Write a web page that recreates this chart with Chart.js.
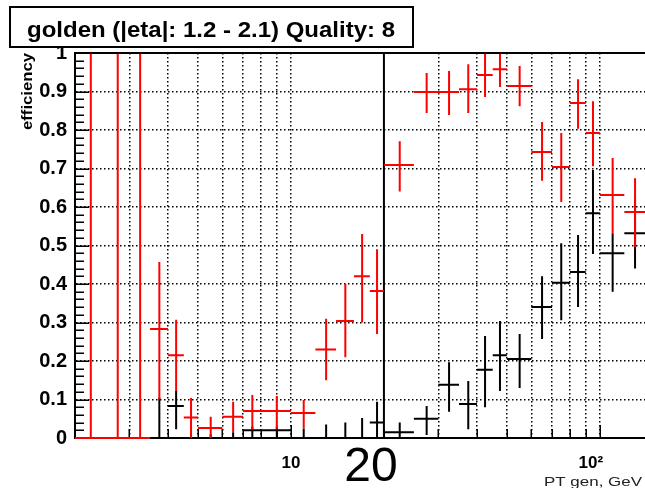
<!DOCTYPE html>
<html>
<head>
<meta charset="utf-8">
<title>golden efficiency</title>
<script src="https://cdn.jsdelivr.net/npm/chart.js@4/dist/chart.umd.min.js"></script>
<style>
  html, body { margin: 0; padding: 0; background: #fff; }
  canvas { display: block; }
</style>
</head>
<body>
<canvas id="eff" width="645" height="488"></canvas>
<script>
// pt bins (GeV)
var binLo = [2, 2.5, 3, 3.5, 4, 4.5, 5, 6, 7, 8, 10, 12, 14, 16, 18, 20, 25, 30, 35, 40, 45, 50, 60, 70, 80, 90, 100, 120];
var binHi = [2.5, 3, 3.5, 4, 4.5, 5, 6, 7, 8, 10, 12, 14, 16, 18, 20, 25, 30, 35, 40, 45, 50, 60, 70, 80, 90, 100, 120, 140];

// red histogram: efficiency and error band ends
var redEff = [0, 0, 0, 0.283, 0.215, 0.053, 0.026, 0.055, 0.07, 0.07, 0.065, 0.23, 0.304, 0.42, 0.382, 0.709, 0.899, 0.899, 0.906, 0.943, 0.958, 0.914, 0.743, 0.704, 0.87, 0.792, 0.631, 0.587];
var redLo  = [0, 0, 0, 0.10, 0.122, 0, 0, 0.015, 0.022, 0.022, 0.025, 0.15, 0.21, 0.30, 0.27, 0.64, 0.844, 0.839, 0.844, 0.886, 0.912, 0.862, 0.668, 0.613, 0.803, 0.706, 0.532, 0.496];
var redHi  = [1, 1, 1, 0.457, 0.307, 0.104, 0.055, 0.094, 0.112, 0.109, 0.099, 0.31, 0.40, 0.53, 0.49, 0.771, 0.948, 0.953, 0.971, 1.0, 1.0, 0.966, 0.821, 0.792, 0.932, 0.875, 0.727, 0.675];

// black histogram
var blackEff = [null, null, null, 0, 0.083, 0, 0, 0, 0.02, 0.02, 0, 0, 0, 0, 0.04, 0.015, 0.05, 0.138, 0.088, 0.177, 0.215, 0.205, 0.34, 0.403, 0.431, 0.584, 0.48, 0.532];
var blackLo  = [null, null, null, 0, 0.023, 0, 0, 0, 0, 0, 0, 0, 0, 0, 0, 0, 0.008, 0.068, 0.023, 0.08, 0.122, 0.13, 0.257, 0.306, 0.34, 0.478, 0.38, 0.44];
var blackHi  = [null, null, null, 0.105, 0.122, 0.01, 0.01, 0.015, 0.03, 0.03, 0.025, 0.035, 0.04, 0.052, 0.094, 0.04, 0.083, 0.197, 0.148, 0.265, 0.304, 0.27, 0.42, 0.506, 0.527, 0.696, 0.532, 0.62];

// the cut marker
var cutAt = [20];

// axes
var xGridAt = [2, 3, 4, 5, 6, 7, 8, 9, 10, 20, 30, 40, 50, 60, 70, 80, 90, 100];
var xMajor = [10, 100];
var xLabels = ['10', '10\u00b2'];
var titleText = 'golden (|eta|: 1.2 - 2.1) Quality: 8';

function errorBars(eff, lo, hi) {
  var v = [], h = [];
  for (var i = 0; i < eff.length; i++) {
    if (eff[i] === null) continue;
    var xc = (binLo[i] + binHi[i]) / 2;
    v.push({x: xc, y: lo[i]}, {x: xc, y: hi[i]}, {x: xc, y: null});
    h.push({x: binLo[i], y: eff[i]}, {x: binHi[i], y: eff[i]}, {x: binHi[i], y: null});
  }
  return [v, h];
}

var red = errorBars(redEff, redLo, redHi);
var black = errorBars(blackEff, blackLo, blackHi);
var cutLine = [];
cutAt.forEach(function (c) { cutLine.push({x: c, y: 0}, {x: c, y: 1}, {x: c, y: null}); });

function seg(data, color) {
  return {data: data, borderColor: color, borderWidth: 2, pointRadius: 0, fill: false, tension: 0, spanGaps: false,
          clip: {left: 0, right: 0, top: 1, bottom: 2}};
}

function stretchText(ctx, str, x, y, width, align) {
  var k = width / ctx.measureText(str).width;
  ctx.save();
  ctx.translate(x, y);
  ctx.scale(k, 1);
  ctx.textAlign = align;
  ctx.fillText(str, 0, 0);
  ctx.restore();
}

var decor = {
  id: 'decor',
  afterDatasetsDraw: function (chart) {
    var ctx = chart.ctx, a = chart.chartArea, x = chart.scales.x, y = chart.scales.y;
    ctx.save();
    ctx.strokeStyle = '#000';
    ctx.lineWidth = 1.5;
    ctx.beginPath();
    for (var i = 1; i <= 50; i++) {
      var py = Math.round(y.getPixelForValue(i / 50)) + 0.25;
      var len = i % 5 === 0 ? 14 : 9;
      ctx.moveTo(a.left, py);
      ctx.lineTo(a.left + len, py);
    }
    xGridAt.forEach(function (v) {
      if (v === 2) return;
      var px = Math.round(x.getPixelForValue(v)) + 0.25;
      var len = xMajor.indexOf(v) >= 0 ? 13 : 9;
      ctx.moveTo(px, a.bottom - 1);
      ctx.lineTo(px, a.bottom - len);
    });
    ctx.stroke();
    ctx.lineWidth = 2;
    ctx.beginPath();
    ctx.moveTo(a.left, a.top);
    ctx.lineTo(a.right, a.top);
    ctx.stroke();
    ctx.restore();
  },
  afterDraw: function (chart) {
    var ctx = chart.ctx, x = chart.scales.x;
    ctx.save();
    ctx.textBaseline = 'alphabetic';

    // title pave
    ctx.fillStyle = '#fff';
    ctx.fillRect(10, 7, 403, 40);
    ctx.strokeStyle = '#000';
    ctx.lineWidth = 2;
    ctx.strokeRect(10, 7, 403, 40);
    ctx.fillStyle = '#000';
    ctx.font = 'bold 22px "Liberation Sans", Arial, sans-serif';
    stretchText(ctx, titleText, 211, 37, 368, 'center');

    // y title
    ctx.save();
    ctx.translate(32, 53);
    ctx.rotate(-Math.PI / 2);
    ctx.font = 'bold 14px "Liberation Sans", Arial, sans-serif';
    stretchText(ctx, 'efficiency', 0, 0, 77, 'right');
    ctx.restore();

    // x labels
    ctx.font = 'bold 17px "Liberation Sans", Arial, sans-serif';
    ctx.textAlign = 'center';
    xMajor.forEach(function (v, i) {
      ctx.fillText(xLabels[i], x.getPixelForValue(v) - (i === 1 ? 9 : 0), 468);
    });

    ctx.font = '48px "Liberation Sans", Arial, sans-serif';
    ctx.fillText(String(cutAt[0]), x.getPixelForValue(cutAt[0]) - 13, 481);

    ctx.fillStyle = '#222';
    ctx.font = '13px "Liberation Sans", Arial, sans-serif';
    stretchText(ctx, 'PT gen, GeV', 642, 486, 98, 'right');
    ctx.restore();
  }
};

var dotted = [1.5, 2.5];

var effChart = new Chart(document.getElementById('eff'), {
  type: 'line',
  data: {
    datasets: [
      seg(red[0], '#ff0000'),
      seg(red[1], '#ff0000'),
      seg(black[0], '#000000'),
      seg(black[1], '#000000'),
      seg(cutLine, '#000000')
    ]
  },
  options: {
    responsive: false,
    animation: false,
    events: [],
    devicePixelRatio: 1,
    layout: {padding: {top: 53, right: 0, bottom: 0, left: 0}},
    plugins: {legend: {display: false}, tooltip: {enabled: false}, title: {display: false}},
    scales: {
      x: {
        type: 'logarithmic',
        min: 2,
        max: 140,
        afterBuildTicks: function (s) { s.ticks = xGridAt.map(function (v) { return {value: v}; }); },
        afterFit: function (s) { s.height = 50; },
        ticks: {display: false},
        grid: {
          drawTicks: false,
          lineWidth: 1.5,
          color: function (c) {
            var v = c.tick ? c.tick.value : null;
            return (v === 2 || v === 20) ? 'rgba(0,0,0,0)' : '#000';
          }
        },
        border: {display: true, color: '#000', width: 2, dash: dotted}
      },
      y: {
        min: 0,
        max: 1,
        afterFit: function (s) { s.width = 75; },
        ticks: {
          stepSize: 0.1,
          padding: 8,
          color: '#000',
          font: {family: '"Liberation Sans", Arial, sans-serif', weight: 'bold', size: 20},
          callback: function (v) { return String(Math.round(v * 10) / 10); }
        },
        grid: {
          drawTicks: false,
          lineWidth: 1.5,
          color: function (c) {
            var v = c.tick ? c.tick.value : null;
            return (v !== null && (v < 0.01 || v > 0.99)) ? 'rgba(0,0,0,0)' : '#000';
          }
        },
        border: {display: true, color: '#000', width: 2, dash: dotted}
      }
    }
  },
  plugins: [decor]
});
</script>
</body>
</html>
